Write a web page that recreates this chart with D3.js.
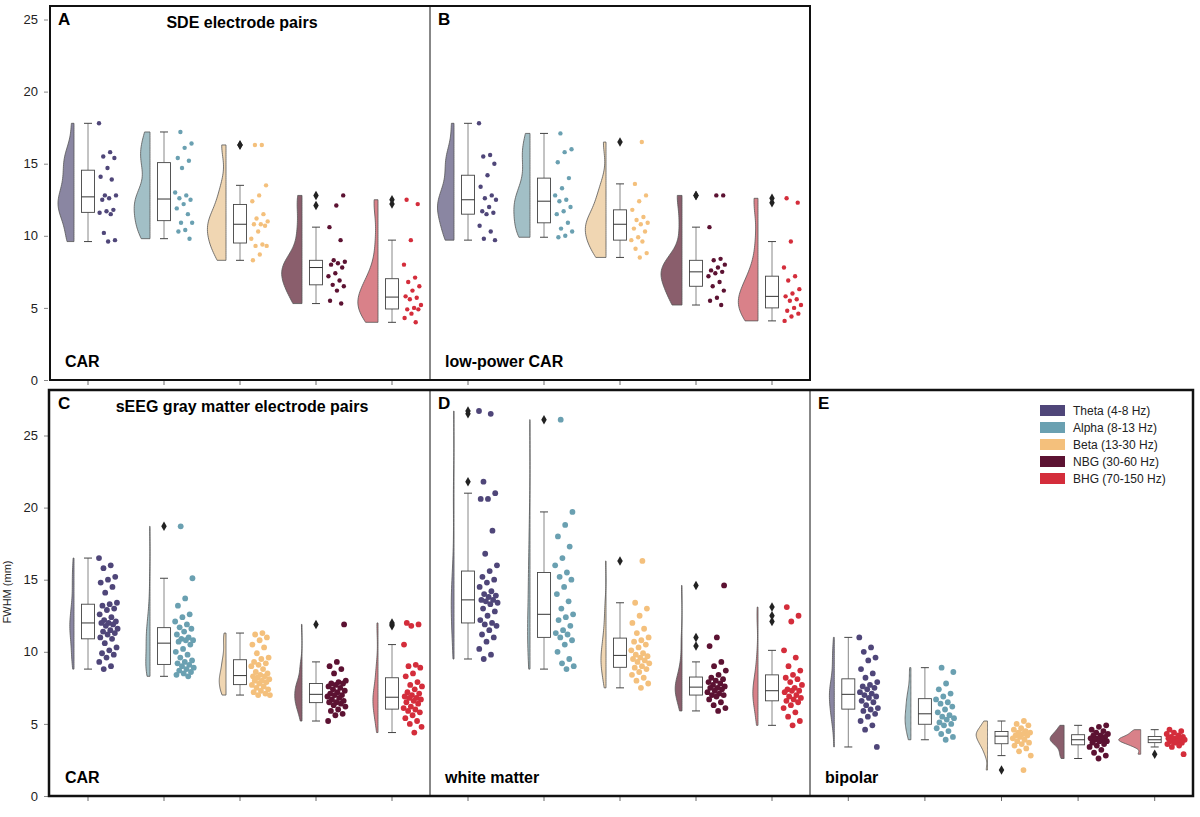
<!DOCTYPE html>
<html><head><meta charset="utf-8">
<script src="https://cdn.jsdelivr.net/npm/d3@7"></script>
<style>body{margin:0;background:#fff}svg{font-family:"Liberation Sans",Arial,sans-serif}</style>
</head><body><svg id="c" width="1200" height="817"></svg>
<script>
// Bands and colours
var bands = ["Theta (4-8 Hz)", "Alpha (8-13 Hz)", "Beta (13-30 Hz)", "NBG (30-60 Hz)", "BHG (70-150 Hz)"];
var pointColors = ["#4f4679", "#6aa0b1", "#f4c07c", "#5c1232", "#d42d3b"];
var violinColors = ["#8a86a2", "#a2bfc6", "#f0d6b2", "#8a5e6c", "#d98189"];

// FWHM (mm) per panel, one array per band
var sdeCar = [
  [17.8,15.8,15.5,15.4,14.7,14.1,13.9,12.8,12.8,12.6,12.5,11.8,11.7,11.6,11.5,10.2,9.7,9.6],
  [17.2,16.4,16.1,15.4,15.2,14.7,13.0,12.8,12.6,12.5,12.2,11.9,11.5,10.9,10.9,10.4,10.3,9.8],
  [16.3,16.3,13.5,12.8,12.4,11.5,11.2,11.0,10.8,10.8,10.7,10.3,9.8,9.4,9.3,9.3,8.7,8.3],
  [12.8,12.1,10.6,9.7,8.3,8.2,8.1,8.0,7.8,7.4,7.2,6.9,6.6,6.5,6.2,5.5,5.3],
  [12.5,12.2,9.7,8.0,7.1,6.8,6.5,6.2,5.8,5.7,5.6,5.2,5.0,4.9,4.9,4.6,4.3,4.0]
];
var sdeLowCar = [
  [17.8,15.6,15.5,15.0,14.2,13.4,12.8,12.6,12.5,12.0,11.7,11.6,11.5,10.7,10.3,9.8,9.7],
  [17.1,16.0,15.8,15.1,14.0,13.3,12.8,12.5,12.4,12.0,11.7,11.5,10.9,10.5,10.3,10.0,9.9],
  [16.5,13.6,12.8,12.4,11.8,11.3,11.1,10.9,10.8,10.5,10.3,9.9,9.7,9.6,9.1,8.8,8.5],
  [12.8,12.8,10.6,8.4,8.3,8.0,7.8,7.6,7.5,7.4,7.2,6.8,6.5,6.2,5.7,5.5,5.2],
  [12.6,12.3,9.6,7.8,7.2,6.9,6.3,6.0,5.8,5.6,5.5,5.2,5.0,4.8,4.6,4.4,4.1]
];
var grayCar = [
  [16.5,16.0,15.8,15.2,15.0,14.8,14.5,14.1,13.4,13.3,13.2,13.0,12.9,12.6,12.4,12.2,12.1,12.0,12.0,11.9,11.8,11.6,11.5,11.4,11.3,11.2,11.0,10.9,10.6,10.3,10.1,9.9,9.8,9.6,9.3,9.0,8.8],
  [18.7,15.1,13.7,13.2,12.6,12.4,12.1,11.9,11.7,11.6,11.4,11.2,11.0,10.9,10.8,10.8,10.7,10.5,10.2,10.0,9.8,9.6,9.4,9.3,9.2,9.1,9.0,8.9,8.8,8.7,8.6,8.5,8.4,8.3],
  [11.3,11.2,11.0,10.8,10.5,10.3,9.9,9.6,9.5,9.3,9.2,9.1,9.0,8.8,8.6,8.5,8.4,8.3,8.3,8.2,8.1,8.0,8.0,7.9,7.8,7.7,7.6,7.5,7.4,7.3,7.2,7.1,7.0,7.0],
  [11.9,9.3,9.0,8.8,8.5,8.0,7.9,7.8,7.8,7.7,7.6,7.5,7.4,7.3,7.2,7.1,7.0,7.0,6.9,6.8,6.7,6.6,6.5,6.5,6.4,6.3,6.2,6.0,5.9,5.7,5.6,5.2],
  [12.0,11.9,11.8,10.5,9.1,9.0,8.9,8.5,8.3,7.9,7.7,7.6,7.4,7.2,7.1,7.0,6.9,6.8,6.8,6.7,6.6,6.5,6.4,6.2,6.1,6.0,5.9,5.8,5.6,5.4,5.2,5.0,4.8,4.4]
];
var whiteMatter = [
  [26.7,26.5,21.8,21.0,20.6,20.6,18.4,16.8,16.0,15.6,15.2,15.0,14.8,14.5,14.2,14.0,13.9,13.8,13.6,13.6,13.5,13.4,13.3,13.0,12.8,12.5,12.2,12.0,11.9,11.8,11.5,11.2,11.0,10.7,10.2,9.8,9.5],
  [26.1,19.7,18.8,18.0,17.3,16.5,16.0,15.5,15.2,15.0,14.5,14.0,13.5,13.0,12.6,12.4,12.2,11.8,11.5,11.3,11.2,11.0,10.8,10.5,10.0,9.5,9.2,9.0,8.8],
  [16.3,13.4,13.0,12.5,12.0,11.6,11.3,11.0,10.8,10.7,10.5,10.3,10.1,9.9,9.8,9.7,9.6,9.5,9.4,9.3,9.2,9.0,8.9,8.8,8.6,8.4,8.2,8.0,7.8,7.5],
  [14.6,11.0,10.4,9.3,9.0,8.7,8.4,8.2,8.1,8.0,7.9,7.8,7.7,7.6,7.5,7.5,7.4,7.3,7.2,7.1,7.0,7.0,6.9,6.7,6.5,6.3,6.1,5.9],
  [13.1,12.5,12.1,10.1,9.6,9.0,8.7,8.4,8.2,8.1,7.9,7.7,7.5,7.4,7.3,7.3,7.2,7.0,6.9,6.8,6.7,6.6,6.5,6.3,6.1,5.8,5.5,5.2,4.9]
];
var bipolar = [
  [11.0,10.3,10.0,9.6,9.4,8.8,8.5,8.2,7.9,7.7,7.6,7.5,7.4,7.2,7.1,7.0,6.9,6.8,6.6,6.5,6.3,6.1,6.0,5.9,5.7,5.5,5.2,4.9,4.6,3.4],
  [8.9,8.6,7.8,7.4,7.1,6.9,6.7,6.5,6.4,6.2,6.0,5.8,5.6,5.5,5.4,5.3,5.1,5.0,4.9,4.7,4.5,4.3,4.1,3.9],
  [5.2,5.0,4.9,4.7,4.6,4.5,4.4,4.4,4.3,4.2,4.2,4.1,4.0,3.9,3.8,3.7,3.6,3.5,3.3,3.1,2.8,1.8],
  [4.9,4.8,4.6,4.5,4.4,4.3,4.2,4.2,4.1,4.0,4.0,3.9,3.9,3.8,3.8,3.7,3.6,3.5,3.4,3.2,3.0,2.8,2.6],
  [4.6,4.5,4.4,4.3,4.2,4.1,4.1,4.0,4.0,3.9,3.9,3.9,3.8,3.8,3.7,3.7,3.6,3.5,3.4,2.9]
];
var yTicks = [0, 5, 10, 15, 20, 25];

var svg = d3.select("#c");

var panels = [
  {data: sdeCar, row: 0, x0: 50, x1: 430, top: 6, bottom: 380, letter: "A", title: "SDE electrode pairs", label: "CAR", axis: true, r: 2.2, jit: 18},
  {data: sdeLowCar, row: 0, x0: 430, x1: 810, top: 6, bottom: 380, letter: "B", title: "", label: "low-power CAR", axis: false, r: 2.2, jit: 18},
  {data: grayCar, row: 1, x0: 50, x1: 430, top: 390, bottom: 796, letter: "C", title: "sEEG gray matter electrode pairs", label: "CAR", axis: true, r: 2.9, jit: 19},
  {data: whiteMatter, row: 1, x0: 430, x1: 810, top: 390, bottom: 796, letter: "D", title: "", label: "white matter", axis: false, r: 2.9, jit: 19},
  {data: bipolar, row: 1, x0: 810, x1: 1193, top: 390, bottom: 796, letter: "E", title: "", label: "bipolar", axis: false, r: 2.9, jit: 19}
];

function kde(values, bw, grid) {
  var n = values.length;
  return grid.map(function(g) {
    var s = d3.sum(values, function(v) { var u = (g - v) / bw; return Math.exp(-0.5 * u * u); });
    return [g, s / (n * bw * Math.sqrt(2 * Math.PI))];
  });
}

// densities, one width scale per row
panels.forEach(function(p) {
  p.dens = p.data.map(function(vals) {
    var sd = d3.deviation(vals), n = vals.length;
    var bw = 0.75 * sd * Math.pow(n, -0.2);
    var lo = d3.min(vals), hi = d3.max(vals);
    var grid = d3.range(0, 61).map(function(i) { return lo + (hi - lo) * i / 60; });
    return kde(vals, bw, grid);
  });
  p.dmax = d3.max(p.dens, function(d) { return d3.max(d, function(e) { return e[1]; }); });
});
var rowMax = [0, 1].map(function(r) {
  return d3.max(panels.filter(function(p) { return p.row === r; }), function(p) { return p.dmax; });
});

panels.forEach(function(p) {
  var y = d3.scaleLinear().domain([0, 25]).range([p.bottom, p.bottom - 14.42 * 25]);
  var x = d3.scalePoint().domain(d3.range(5)).range([p.x0, p.x1]).padding(0.5);
  var w = d3.scaleLinear().domain([0, rowMax[p.row]]).range([0, p.row === 0 ? 21 : 22]);
  var g = svg.append("g");

  p.data.forEach(function(vals, i) {
    var cx = x(i);
    var edge = cx - 14;
    var area = d3.area().curve(d3.curveBasis)
      .y(function(d) { return y(d[0]); })
      .x0(edge).x1(function(d) { return edge - w(d[1]); });
    g.append("path").attr("d", area(p.dens[i]))
      .attr("fill", violinColors[i]).attr("stroke", "#555").attr("stroke-width", 0.8);

    var s = vals.slice().sort(d3.ascending);
    var q1 = d3.quantile(s, 0.25), med = d3.quantile(s, 0.5), q3 = d3.quantile(s, 0.75);
    var iqr = q3 - q1;
    var inl = s.filter(function(v) { return v >= q1 - 1.5 * iqr && v <= q3 + 1.5 * iqr; });
    var wlo = d3.min(inl), whi = d3.max(inl);
    var out = s.filter(function(v) { return v < q1 - 1.5 * iqr || v > q3 + 1.5 * iqr; });
    var bw2 = 6.5;
    g.append("line").attr("x1", cx).attr("x2", cx).attr("y1", y(whi)).attr("y2", y(q3)).attr("stroke", "#888");
    g.append("line").attr("x1", cx).attr("x2", cx).attr("y1", y(q1)).attr("y2", y(wlo)).attr("stroke", "#888");
    [wlo, whi].forEach(function(v) {
      g.append("line").attr("x1", cx - 4).attr("x2", cx + 4).attr("y1", y(v)).attr("y2", y(v)).attr("stroke", "#444");
    });
    g.append("rect").attr("x", cx - bw2).attr("width", 2 * bw2)
      .attr("y", y(q3)).attr("height", y(q1) - y(q3))
      .attr("fill", "#fff").attr("stroke", "#444").attr("stroke-width", 0.9);
    g.append("line").attr("x1", cx - bw2).attr("x2", cx + bw2).attr("y1", y(med)).attr("y2", y(med)).attr("stroke", "#333");
    g.selectAll(null).data(out).enter().append("path")
      .attr("d", d3.symbol(d3.symbolDiamond, 26))
      .attr("transform", function(v) { return "translate(" + cx + "," + y(v) + ")"; })
      .attr("fill", "#222");

    g.selectAll(null).data(vals).enter().append("circle")
      .attr("cx", function(v, j) { return cx + 11 + ((j * 0.618034 + i * 0.3) % 1) * p.jit; })
      .attr("cy", function(v) { return y(v); })
      .attr("r", p.r).attr("fill", pointColors[i]);
  });

  g.selectAll(null).data(d3.range(5)).enter().append("line")
    .attr("x1", function(d) { return x(d); }).attr("x2", function(d) { return x(d); })
    .attr("y1", p.bottom).attr("y2", p.bottom + 5).attr("stroke", "#444").attr("stroke-width", 0.8);

  if (p.axis) {
    var ax = svg.append("g").attr("transform", "translate(" + (p.x0 - 2) + ",0)")
      .call(d3.axisLeft(y).tickValues(yTicks).tickSize(4).tickPadding(6));
    ax.select(".domain").remove();
    ax.selectAll("text").attr("font-size", 13).attr("fill", "#222");
    ax.selectAll("line").attr("stroke", "#888");
  }

  g.append("text").attr("x", p.x0 + 8).attr("y", p.top + 19).text(p.letter)
    .attr("font-size", 17).attr("font-weight", "bold");
  if (p.title) g.append("text").attr("x", (p.x0 + p.x1) / 2 + 2).attr("y", p.top + 22).text(p.title)
    .attr("text-anchor", "middle").attr("font-size", 16).attr("font-weight", "bold");
  g.append("text").attr("x", p.x0 + 15).attr("y", p.bottom - 13).text(p.label)
    .attr("font-size", 16).attr("font-weight", "bold");
});

svg.append("rect").attr("x", 50).attr("y", 6).attr("width", 760).attr("height", 374)
  .attr("fill", "none").attr("stroke", "#111").attr("stroke-width", 2);
svg.append("line").attr("x1", 430).attr("x2", 430).attr("y1", 6).attr("y2", 380).attr("stroke", "#111");
svg.append("rect").attr("x", 49).attr("y", 390).attr("width", 1144).attr("height", 406)
  .attr("fill", "none").attr("stroke", "#111").attr("stroke-width", 2.5);
[430, 810].forEach(function(xx) {
  svg.append("line").attr("x1", xx).attr("x2", xx).attr("y1", 390).attr("y2", 796).attr("stroke", "#111");
});

svg.append("text").attr("transform", "translate(11,592) rotate(-90)").attr("text-anchor", "middle")
  .attr("font-size", 11).attr("fill", "#222").text("FWHM (mm)");

var lg = svg.append("g").attr("transform", "translate(1040,405)");
bands.forEach(function(b, i) {
  lg.append("rect").attr("x", 0).attr("y", i * 17).attr("width", 25).attr("height", 11).attr("fill", pointColors[i]);
  lg.append("text").attr("x", 33).attr("y", i * 17 + 10).text(b).attr("font-size", 12).attr("fill", "#222");
});
</script></body></html>
